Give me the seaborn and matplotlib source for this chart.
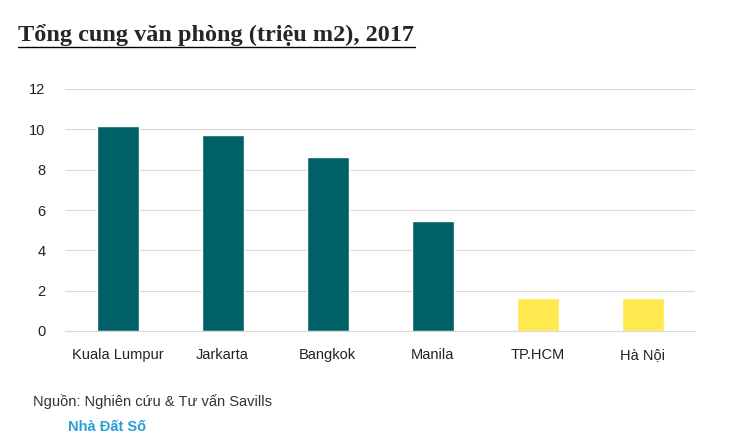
import matplotlib
matplotlib.use("Agg")
import matplotlib.pyplot as plt
import seaborn as sns
import pandas as pd

cities = ["Kuala Lumpur", "Jarkarta", "Bangkok", "Manila", "TP.HCM", "Hà Nội"]
supply = [10.15, 9.72, 8.63, 5.45, 1.62, 1.62]
colors = ["#006068", "#006068", "#006068", "#006068", "#FFE94F", "#FFE94F"]

df = pd.DataFrame({"city": cities, "supply": supply})
sns.set_style("white")
plt.rcParams["font.family"] = ["Liberation Sans", "DejaVu Sans"]

fig = plt.figure(figsize=(7.45, 4.37), dpi=100)
ax = fig.add_axes([65/745, 1-331/437, 630/745, (331-89)/437])
sns.barplot(data=df, x="city", y="supply", hue="city", palette=colors,
            legend=False, width=0.4, ax=ax, saturation=1)
ax.set_ylim(0, 12)
ax.set_yticks(range(0, 13, 2))
ax.yaxis.grid(True, color="#d9d9d9", linewidth=0.8)
ax.set_axisbelow(True)
for s in ["top", "right", "left"]:
    ax.spines[s].set_visible(False)
ax.spines["bottom"].set_color("#d9d9d9")
ax.set_xlabel("")
ax.set_ylabel("")
ax.tick_params(axis="both", length=0, labelsize=10.5, colors="#222222")
ax.tick_params(axis="x", pad=12)
ax.tick_params(axis="y", pad=14)

fig.text(18/745, 1-35/437, "Tổng cung văn phòng (triệu m2), 2017", fontsize=17.5,
         fontweight="bold", family="Liberation Serif", va="center")
fig.add_artist(plt.Line2D([18/745, 415/745], [1-47/437, 1-47/437], color="black", lw=1))
fig.text(33/745, 1-402/437, "Nguồn: Nghiên cứu & Tư vấn Savills", fontsize=10.5,
         color="#333333", va="center")
fig.text(68/745, 1-427/437, "Nhà Đất Số", fontsize=10.5, fontweight="bold",
         color="#2a9fd6", va="center")
fig.savefig("out.png", dpi=100)
